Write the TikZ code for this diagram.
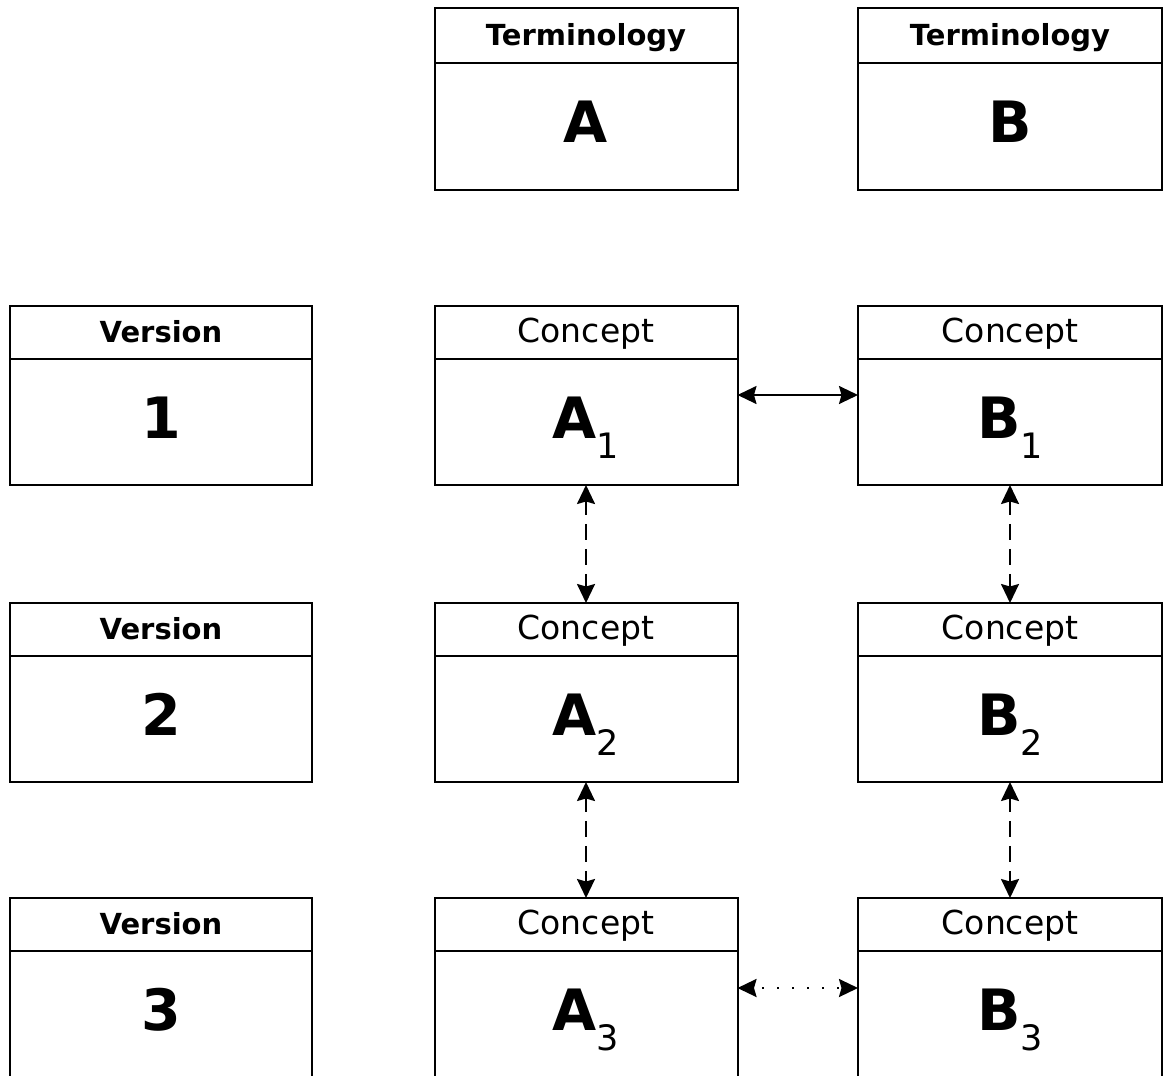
\documentclass[tikz,border=0pt]{standalone}
\usepackage{fontspec}
\setmainfont{DejaVu Sans}
\usetikzlibrary{arrows.meta}
\newcommand\subsc[1]{\raisebox{-20pt}{\mdseries\fontsize{35}{37}\selectfont #1}}
\begin{document}
\begin{tikzpicture}[x=1pt,y=1pt]
\tikzset{
 box/.style={draw, line width=2pt, inner sep=0pt, outer sep=0pt, fill=white},
 hdr/.style={box, minimum height=53pt, text height=24pt, text depth=4pt},
 bdy/.style={box, minimum height=126pt, text height=41pt, text depth=9pt},
 colV/.style={minimum width=302pt},
 colA/.style={minimum width=303pt},
 colB/.style={minimum width=304pt},
 hb/.style={font=\bfseries\fontsize{29}{31}\selectfont},
 hr/.style={font=\fontsize{33}{35}\selectfont},
 big/.style={font=\bfseries\fontsize{57}{60}\selectfont},
 tipS/.tip={Stealth[length=19pt,width=18pt,inset=2.5pt]},
 link/.style={line width=2pt, tipS-tipS},
 dashlink/.style={link, dash pattern=on 16pt off 9pt, dash phase=2pt},
 dotlink/.style={link, line width=2.4pt, dash pattern=on 2pt off 13pt, dash phase=-9pt},
}
\clip (0,0) rectangle (1165,-1076);
\fill[white] (0,0) rectangle (1165,-1076);
% Row 0 : terminologies
\node[hdr, colA, hb, minimum height=55pt] (thA) at (586,-35.5) {Terminology};
\node[bdy, colA, big, minimum height=127pt] (tbA) at (586,-126.5) {A};
\node[hdr, colB, hb, minimum height=55pt] (thB) at (1010,-35.5) {Terminology};
\node[bdy, colB, big, minimum height=127pt] (tbB) at (1010,-126.5) {B};
% Row 1
\node[hdr, colV, hb] (vh1) at (161,-332.5) {Version};
\node[bdy, colV, big] (vb1) at (161,-422) {1};
\node[hdr, colA, hr] (ah1) at (586,-332.5) {Concept};
\node[bdy, colA, big] (ab1) at (586,-422) {A\subsc{1}};
\node[hdr, colB, hr] (bh1) at (1010,-332.5) {Concept};
\node[bdy, colB, big] (bb1) at (1010,-422) {B\subsc{1}};
% Row 2
\node[hdr, colV, hb] (vh2) at (161,-629.5) {Version};
\node[bdy, colV, big] (vb2) at (161,-719) {2};
\node[hdr, colA, hr] (ah2) at (586,-629.5) {Concept};
\node[bdy, colA, big] (ab2) at (586,-719) {A\subsc{2}};
\node[hdr, colB, hr] (bh2) at (1010,-629.5) {Concept};
\node[bdy, colB, big] (bb2) at (1010,-719) {B\subsc{2}};
% Row 3
\node[hdr, colV, hb] (vh3) at (161,-924.5) {Version};
\node[bdy, colV, big, minimum height=134pt, text height=37pt, text depth=13pt] (vb3) at (161,-1018) {3};
\node[hdr, colA, hr] (ah3) at (586,-924.5) {Concept};
\node[bdy, colA, big, minimum height=134pt, text height=37pt, text depth=13pt] (ab3) at (586,-1018) {A\subsc{3}};
\node[hdr, colB, hr] (bh3) at (1010,-924.5) {Concept};
\node[bdy, colB, big, minimum height=134pt, text height=37pt, text depth=13pt] (bb3) at (1010,-1018) {B\subsc{3}};
% Connectors
\draw[link] ([yshift=27pt]ab1.east) -- ([yshift=27pt]bb1.west);
\draw[dashlink] (ab1.south) -- (ah2.north);
\draw[dashlink] (bb1.south) -- (bh2.north);
\draw[dashlink] (ab2.south) -- (ah3.north);
\draw[dashlink] (bb2.south) -- (bh3.north);
\draw[dotlink] ([yshift=30pt]ab3.east) -- ([yshift=30pt]bb3.west);
\end{tikzpicture}
\end{document}
